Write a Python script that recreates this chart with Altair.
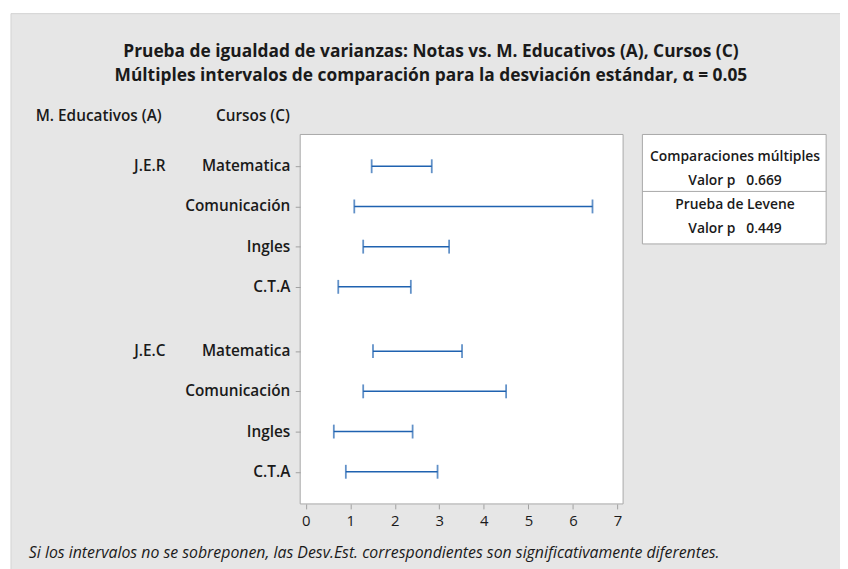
import altair as alt
import pandas as pd

# ---- data ----
groups = ["J.E.R", "J.E.C"]
courses = ["Matematica", "Comunicación", "Ingles", "C.T.A"]
lower = [1.48, 1.09, 1.29, 0.73, 1.51, 1.29, 0.63, 0.90]
upper = [2.83, 6.44, 3.22, 2.36, 3.51, 4.50, 2.40, 2.96]
x_ticks = [0, 1, 2, 3, 4, 5, 6, 7]
title_lines = [
    "Prueba de igualdad de varianzas: Notas vs. M. Educativos (A), Cursos (C)",
    "Múltiples intervalos de comparación para la desviación estándar, α = 0.05",
]
box_lines = ["Comparaciones múltiples", "Valor p\u00a0\u00a0\u00a00.669",
             "Prueba de Levene", "Valor p\u00a0\u00a0\u00a00.449"]
footnote = "Si los intervalos no se sobreponen, las Desv.Est. correspondientes son significativamente diferentes."

GROUP_STEP = 4.6
rows = []
for gi, g in enumerate(groups):
    for ci, c in enumerate(courses):
        k = gi * len(courses) + ci
        rows.append({"group": g, "course": c, "pos": gi * GROUP_STEP + ci,
                     "lo": lower[k], "hi": upper[k], "first": ci == 0})
df = pd.DataFrame(rows)
df_first = df[df["first"]]

# ---- layout ----
W, H = 326, 373
PAD_L, PAD_T = 295, 125
SVG_W, SVG_H = 840, 561
FONT = "Open Sans"
BLUE = "#1f62b0"
TXT = "#1a1a1a"
LBL = 15.5

xs = alt.Scale(domain=[-0.125, 7.127], nice=False, zero=False)
ys = alt.Scale(domain=[-0.79, 8.4], nice=False, zero=False, reverse=True)
x_axis = alt.Axis(values=x_ticks, domain=False, grid=False, tickColor="#a0a0a0",
                  tickSize=5, labelFontSize=15, labelColor=TXT, labelFont=FONT,
                  labelPadding=5, format="d", zindex=1)
y_axis = alt.Axis(values=list(df["pos"]), labels=False, domain=False, grid=False,
                  tickColor="#a0a0a0", tickSize=5, zindex=1)
x_enc = alt.X("lo:Q", scale=xs, title=None, axis=x_axis)
y_enc = alt.Y("pos:Q", scale=ys, title=None, axis=y_axis)

one = pd.DataFrame({"a": [0]})

bg = alt.Chart(one).mark_rect(fill="#e6e6e6", stroke="#d2d2d2").encode(
    x=alt.value(3 - PAD_L), x2=alt.value(SVG_W - PAD_L + 5),
    y=alt.value(3 - PAD_T), y2=alt.value(SVG_H - PAD_T + 5))
plot_bg = alt.Chart(one).mark_rect(fill="white", stroke="#a8a8a8", strokeWidth=1).encode(
    x=alt.value(0), x2=alt.value(W), y=alt.value(0), y2=alt.value(H))

bars = alt.Chart(df).mark_rule(color=BLUE, strokeWidth=1.5).encode(
    x=x_enc, x2="hi:Q", y=y_enc)
cap_lo = alt.Chart(df).mark_tick(color=BLUE, orient="vertical", size=14, thickness=1.8).encode(
    x=x_enc, y=y_enc)
cap_hi = alt.Chart(df).mark_tick(color=BLUE, orient="vertical", size=14, thickness=1.8).encode(
    x=alt.X("hi:Q", scale=xs, title=None, axis=x_axis), y=y_enc)

course_lbl = alt.Chart(df).mark_text(align="right", baseline="middle", font=FONT, fontSize=LBL,
                                     fontWeight=600, color=TXT).encode(
    x=alt.value(-10), y=y_enc, text="course:N")
group_lbl = alt.Chart(df_first).mark_text(align="right", baseline="middle", font=FONT, fontSize=LBL,
                                          fontWeight=600, color=TXT).encode(
    x=alt.value(-136), y=y_enc, text="group:N")

hdr = pd.DataFrame({"t": ["M. Educativos (A)", "Cursos (C)"]})
hdr_a = alt.Chart(hdr.iloc[[0]]).mark_text(align="left", baseline="middle", font=FONT, fontSize=LBL,
                                            fontWeight=600, color=TXT).encode(
    x=alt.value(-267), y=alt.value(-19), text="t:N")
hdr_c = alt.Chart(hdr.iloc[[1]]).mark_text(align="right", baseline="middle", font=FONT, fontSize=LBL,
                                            fontWeight=600, color=TXT).encode(
    x=alt.value(-10.5), y=alt.value(-19), text="t:N")

t1 = alt.Chart(pd.DataFrame({"t": [title_lines[0]]})).mark_text(
    align="center", baseline="middle", font=FONT, fontSize=17.5, fontWeight="bold", color=TXT).encode(
    x=alt.value(132), y=alt.value(-83), text="t:N")
t2 = alt.Chart(pd.DataFrame({"t": [title_lines[1]]})).mark_text(
    align="center", baseline="middle", font=FONT, fontSize=17.5, fontWeight="bold", color=TXT).encode(
    x=alt.value(132), y=alt.value(-59), text="t:N")

box = alt.Chart(one).mark_rect(fill="white", stroke="#a8a8a8").encode(
    x=alt.value(345.5), x2=alt.value(531), y=alt.value(0), y2=alt.value(110.5))
div = alt.Chart(one).mark_rule(color="#a8a8a8").encode(
    x=alt.value(345.5), x2=alt.value(531), y=alt.value(57.5))
box_layers = []
for txt, yy in zip(box_lines, [22.3, 47.3, 71.3, 95]):
    box_layers.append(alt.Chart(pd.DataFrame({"t": [txt]})).mark_text(
        align="center", baseline="middle", font=FONT, fontSize=14, fontWeight=600, color=TXT).encode(
        x=alt.value(439), y=alt.value(yy), text="t:N"))

foot = alt.Chart(pd.DataFrame({"t": [footnote]})).mark_text(
    align="left", baseline="middle", font=FONT, fontSize=16, fontStyle="italic", color=TXT).encode(
    x=alt.value(-274), y=alt.value(423), text="t:N")

chart = alt.layer(bg, plot_bg, bars, cap_lo, cap_hi, course_lbl, group_lbl, hdr_a, hdr_c,
                  t1, t2, box, div, *box_layers, foot).properties(
    width=W, height=H,
    autosize=alt.AutoSizeParams(type="none"),
    padding={"left": PAD_L, "top": PAD_T, "right": SVG_W - PAD_L - W, "bottom": SVG_H - PAD_T - H},
    background="white",
).configure_view(stroke=None, fill=None)

chart.save("out.html", embed_options={"renderer": "svg", "actions": False})
